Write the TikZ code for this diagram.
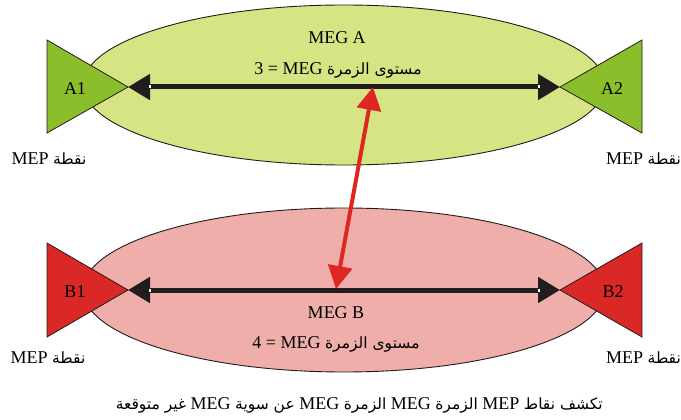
\documentclass[tikz,border=0pt]{standalone}
\usepackage{fontspec}
\setmainfont{Liberation Serif}
\newfontfamily\arabicfont[Script=Arabic]{DejaVu Sans}
\usetikzlibrary{arrows.meta,calc}
\TeXXeTstate=1
\definecolor{megAfill}{RGB}{214,229,132}
\definecolor{megBfill}{RGB}{239,174,170}
\definecolor{mepA}{RGB}{138,190,42}
\definecolor{mepB}{RGB}{218,40,38}
\definecolor{arrowred}{RGB}{222,38,34}
\definecolor{darkline}{RGB}{33,29,28}
% Arabic words in DejaVu Sans, Latin acronyms kept left-to-right in the main font
\newcommand{\arw}[1]{{\arabicfont\fontsize{15.5}{18}\selectfont #1}}
\newcommand{\ltr}[1]{\beginL{\rmfamily #1}\endL}
\begin{document}
\begin{tikzpicture}[x=1pt,y=-1pt,
  megzone/.style={draw=darkline, line width=0.9pt},
  meptri/.style={draw=darkline, line width=0.8pt, line join=miter},
  lbl/.style={font=\fontsize{18}{20}\selectfont, inner sep=0pt},
  megline/.style={draw=darkline, line width=5pt,
    {Triangle[length=22pt,width=25pt]}-{Triangle[length=22pt,width=25pt]}},
  redarrow/.style={draw=arrowred, line width=4pt,
    {Triangle[length=23pt,width=24pt]}-{Triangle[length=23pt,width=24pt]}},
  notch/.style={fill=white}]
\useasboundingbox (0,0) rectangle (681,420);
\fill[white] (0,0) rectangle (681,420);

% MEG zones
\draw[megzone, fill=megAfill] (344,85) ellipse [x radius=261, y radius=80];
\draw[megzone, fill=megBfill] (344,290) ellipse [x radius=261, y radius=82];

% MEP end points
\draw[meptri, fill=mepA] (47,40) -- (128,87) -- (47,133) -- cycle;
\draw[meptri, fill=mepA] (642,40) -- (560,87) -- (642,133) -- cycle;
\draw[meptri, fill=mepB] (47,243) -- (128,290) -- (47,337) -- cycle;
\draw[meptri, fill=mepB] (642,243) -- (560,290) -- (642,337) -- cycle;
\coordinate (a1) at (128,87);
\coordinate (a2) at (560,87);
\coordinate (b1) at (128,290);
\coordinate (b2) at (560,290);

\node[lbl] (labA1) at (75,89) {A1};
\node[lbl] (labA2) at (612,89) {A2};
\node[lbl] (labB1) at (75,292) {B1};
\node[lbl] (labB2) at (613,292) {B2};

% connections inside each MEG
\draw[megline] (a1) -- (a2);
\draw[megline] (b1) -- (b2);
\foreach \p/\d in {a1/21, a2/-22, b1/21, b2/-22}
  \fill[notch] ($(\p)+(\d,-1.5)$) rectangle ++(1.5,3);

% unexpected MEG level
\coordinate (rt) at (373,87);
\coordinate (rb) at (336,289);
\draw[redarrow] (rt) -- (rb);

% zone texts
\node[lbl] (megA) at (337,38) {MEG A};
\node[lbl] (lvlA) at (338,70) {\beginR\arw{مستوى الزمرة} \ltr{MEG} = 3\endR};
\node[lbl] (megB) at (336,313) {MEG B};
\node[lbl] (lvlB) at (336,344) {\beginR\arw{مستوى الزمرة} \ltr{MEG} = 4\endR};

% MEP captions
\node[lbl] (mepA1) at (49,159) {\beginR\arw{نقطة} \ltr{MEP}\endR};
\node[lbl, anchor=west] (mepA2) at (606,159) {\beginR\arw{نقطة} \ltr{MEP}\endR};
\node[lbl] (mepB1) at (48,358) {\beginR\arw{نقطة} \ltr{MEP}\endR};
\node[lbl, anchor=west] (mepB2) at (606,358) {\beginR\arw{نقطة} \ltr{MEP}\endR};

% caption
\node[lbl, anchor=east] (caption) at (603,405) {\beginR\arw{تكشف نقاط} \ltr{MEP} \arw{الزمرة} \ltr{MEG} \arw{الزمرة} \ltr{MEG} \arw{عن سوية} \ltr{MEG} \arw{غير متوقعة}\endR};
\end{tikzpicture}
\end{document}
